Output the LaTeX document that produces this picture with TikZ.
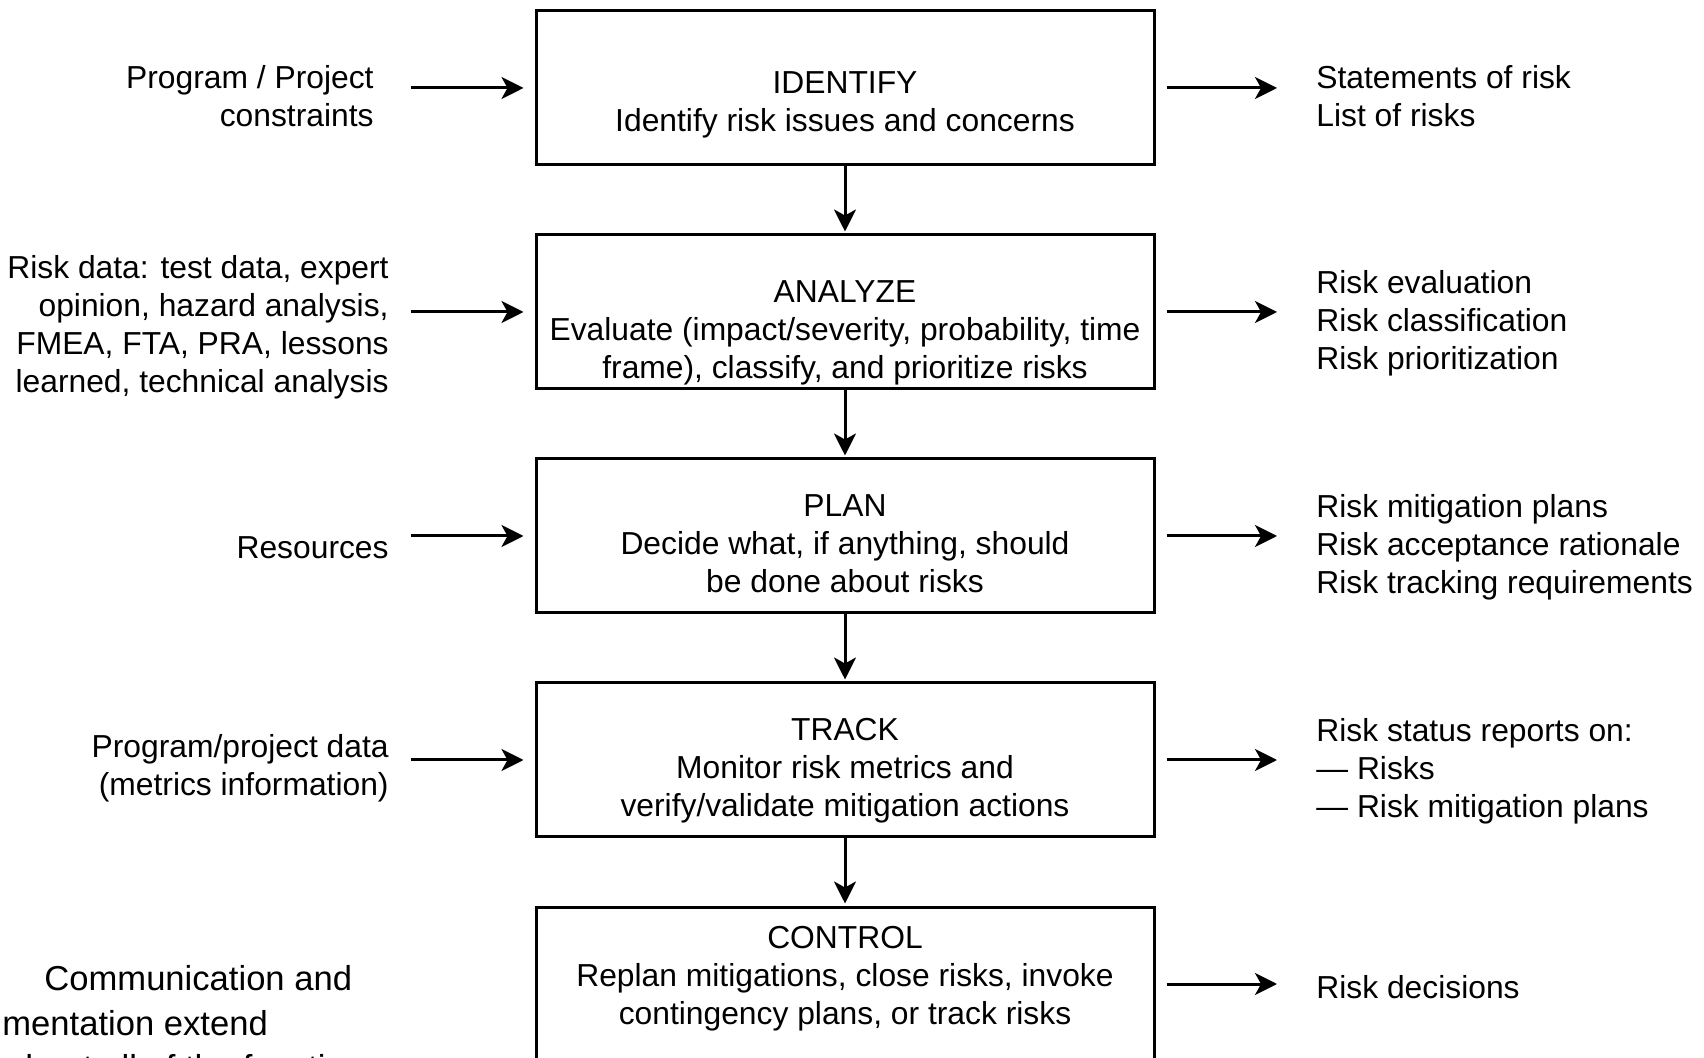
\documentclass[tikz,border=0pt]{standalone}
\usepackage{fontspec}
\setmainfont{Liberation Sans}
\usetikzlibrary{arrows.meta}
\begin{document}
\begin{tikzpicture}[x=0.5pt,y=-0.5pt,
  stepbox/.style={draw,line width=1.5pt,minimum width=309pt,minimum height=77pt,inner sep=0pt},
  txt/.style={inner sep=0pt,font=\fontsize{15.9pt}{19pt}\selectfont},
  bigtxt/.style={inner sep=0pt,font=\fontsize{17.3pt}{22.3pt}\selectfont},
  arr/.style={line width=1.5pt,-{Stealth[length=11pt,width=11pt,inset=3pt]}},
]
\useasboundingbox (0,0) rectangle (1704,1058);
\fill[white] (0,0) rectangle (1704,1058);
\clip (0,0) rectangle (1704,1058);

% boxes
\node[stepbox] (b1) at (845,88) {};
\node[stepbox] (b2) at (845,312) {};
\node[stepbox] (b3) at (845,536) {};
\node[stepbox] (b4) at (845,760) {};
\node[stepbox] (b5) at (845,984) {};

% box texts
\node[txt,anchor=north,align=center] (t1) at (845,71) {IDENTIFY\\Identify risk issues and concerns};
\node[txt,anchor=north,align=center] (t2) at (845,280) {ANALYZE\\Evaluate (impact/severity, probability, time\\frame), classify, and prioritize risks};
\node[txt,anchor=north,align=center] (t3) at (845,494) {PLAN\\Decide what, if anything, should\\be done about risks};
\node[txt,anchor=north,align=center] (t4) at (845,718) {TRACK\\Monitor risk metrics and\\verify/validate mitigation actions};
\node[txt,anchor=north,align=center] (t5) at (845,926) {CONTROL\\Replan mitigations, close risks, invoke\\contingency plans, or track risks};

% inputs
\node[txt,anchor=north east,align=right] (l1) at (374,65) {Program / Project\\constraints};
\node[txt,anchor=north east,align=right] (l2) at (389,255) {Risk data: test data, expert\\opinion, hazard analysis,\\FMEA, FTA, PRA, lessons\\learned, technical analysis};
\node[txt,anchor=north east,align=right] (l3) at (389,536) {Resources};
\node[txt,anchor=north east,align=right] (l4) at (389,734) {Program/project data\\(metrics information)};

% outputs
\node[txt,anchor=north west,align=left] (r1) at (1316,65) {Statements of risk\\List of risks};
\node[txt,anchor=north west,align=left] (r2) at (1316,270) {Risk evaluation\\Risk classification\\Risk prioritization};
\node[txt,anchor=north west,align=left] (r3) at (1316,494) {Risk mitigation plans\\Risk acceptance rationale\\Risk tracking requirements};
\node[txt,anchor=north west,align=left] (r4) at (1316,718) {Risk status reports on:\\— Risks\\— Risk mitigation plans};
\node[txt,anchor=north west,align=left] (r5) at (1316,975) {Risk decisions};

% note (cut by the picture edge, as in the reference)
\node[bigtxt,anchor=north west,align=left] (note) at (-73,965) {\hspace*{58.5pt}Communication and\\documentation extend\\throughout all of the functions};

% arrow ends
\coordinate (li1) at (411,88);
\coordinate (li2) at (411,312);
\coordinate (li3) at (411,536);
\coordinate (li4) at (411,760);
\coordinate (ro1) at (1277,88);
\coordinate (ro2) at (1277,312);
\coordinate (ro3) at (1277,536);
\coordinate (ro4) at (1277,760);
\coordinate (ro5) at (1277,984);

\draw[arr,shorten >=5.5pt] (li1) -- (b1);
\draw[arr,shorten >=5.5pt] (li2) -- (b2);
\draw[arr,shorten >=5.5pt] (li3) -- (b3);
\draw[arr,shorten >=5.5pt] (li4) -- (b4);

\draw[arr,shorten <=5.5pt] (b1) -- (ro1);
\draw[arr,shorten <=5.5pt] (b2) -- (ro2);
\draw[arr,shorten <=5.5pt] (b3) -- (ro3);
\draw[arr,shorten <=5.5pt] (b4) -- (ro4);
\draw[arr,shorten <=5.5pt] (b5) -- (ro5);

\draw[arr,shorten >=1pt] (b1) -- (b2);
\draw[arr,shorten >=1pt] (b2) -- (b3);
\draw[arr,shorten >=1pt] (b3) -- (b4);
\draw[arr,shorten >=1pt] (b4) -- (b5);
\end{tikzpicture}
\end{document}
